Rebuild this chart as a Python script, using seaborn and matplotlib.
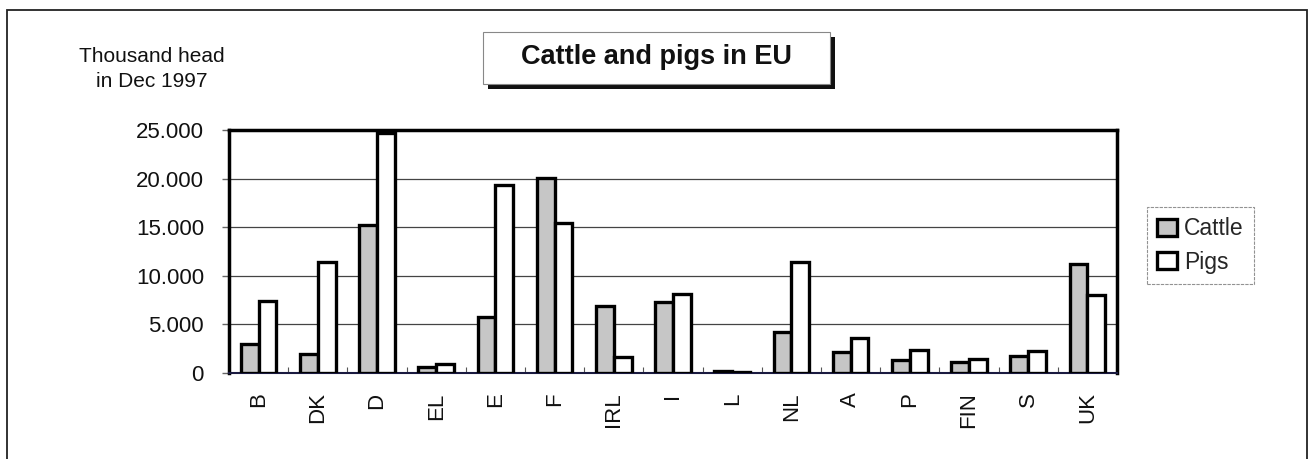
import numpy as np
import pandas as pd
import matplotlib
matplotlib.use("Agg")
import matplotlib.pyplot as plt
import matplotlib.patches as mpatches
from matplotlib.ticker import FuncFormatter
import seaborn as sns

# Bestand Dezember 1997, in Tausend Stück
countries = ["B", "DK", "D", "EL", "E", "F", "IRL", "I", "L", "NL", "A", "P", "FIN", "S", "UK"]
cattle = [3000, 2000, 15200, 600, 5800, 20100, 6900, 7300, 200, 4200, 2200, 1300, 1100, 1700, 11200]
pigs = [7400, 11400, 24700, 900, 19300, 15400, 1600, 8150, 70, 11400, 3600, 2400, 1400, 2300, 8000]
series = ["Cattle", "Pigs"]
y_ticks = [0, 5000, 10000, 15000, 20000, 25000]

sns.set_theme(style="white")
plt.rcParams["font.family"] = ["Liberation Sans", "DejaVu Sans"]

df = pd.DataFrame({"country": countries * 2,
                   "value": cattle + pigs,
                   "animal": [series[0]] * len(countries) + [series[1]] * len(countries)})
farben = {"Cattle": "#c6c6c6", "Pigs": "white"}

fig = plt.figure(figsize=(13.14, 4.59), dpi=100)
W, H = 1314, 459
ax = fig.add_axes([229 / W, 1 - 373 / H, 888 / W, 243 / H])

sns.barplot(data=df, x="country", y="value", hue="animal", order=countries,
            hue_order=series, palette=farben, width=0.6, edgecolor="black",
            linewidth=2.4, saturation=1, errorbar=None, legend=False, ax=ax, zorder=3)

ax.set_xlim(-0.5, len(countries) - 0.5)
ax.set_ylim(0, 25000)
ax.set_yticks(y_ticks)
ax.yaxis.set_major_formatter(FuncFormatter(lambda v, p: f"{int(v):,}".replace(",", ".")))
ax.set_xlabel("")
ax.set_ylabel("")
ax.grid(axis="y", color="#444444", linewidth=0.9, zorder=0)
ax.set_axisbelow(True)

ax.tick_params(axis="y", which="major", left=True, length=5, width=1, color="#666666",
               pad=13, labelsize=16, labelcolor="#111111")
ax.tick_params(axis="x", which="major", bottom=False, length=0, pad=14,
               labelsize=16, labelrotation=90, labelcolor="#111111")
ax.set_xticks(np.arange(-0.5, len(countries), 1), minor=True)
ax.tick_params(axis="x", which="minor", bottom=True, direction="in", length=4,
               width=0.8, color="#555555")

for side in ["top", "right", "left"]:
    ax.spines[side].set_color("black")
    ax.spines[side].set_linewidth(2.5)
ax.spines["bottom"].set_color("#1a1a40")
ax.spines["bottom"].set_linewidth(1.5)

# Legende
handles = [mpatches.Patch(facecolor=farben[s], edgecolor="black", linewidth=2.4, label=s)
           for s in series]
leg = fig.legend(handles=handles, loc="upper left", bbox_to_anchor=(1147 / W, 1 - 207 / H),
                 fontsize=16.5, frameon=True, fancybox=False, handlelength=0.85,
                 handleheight=0.8, handletextpad=0.3, labelspacing=0.45, borderpad=0.45,
                 borderaxespad=0)
leg.get_frame().set_edgecolor("#777777")
leg.get_frame().set_linewidth(0.8)
leg.get_frame().set_linestyle((0, (3, 1)))

# Titel mit Schatten
fig.patches.append(mpatches.Rectangle((488 / W, 1 - 89 / H), 347 / W, 52 / H,
                                      transform=fig.transFigure, facecolor="#111111",
                                      edgecolor="none", zorder=1))
fig.patches.append(mpatches.Rectangle((483 / W, 1 - 84 / H), 347 / W, 52 / H,
                                      transform=fig.transFigure, facecolor="white",
                                      edgecolor="#888888", linewidth=0.8, zorder=2))
fig.text(656 / W, 1 - 57 / H, "Cattle and pigs in EU", ha="center", va="center",
         fontsize=19.5, fontweight="bold", color="#111111", zorder=3)

fig.text(152 / W, 1 - 69 / H, "Thousand head\nin Dec 1997", ha="center", va="center",
         fontsize=15, color="#111111", linespacing=1.4)

# Rahmen um die ganze Grafik
fig.patches.append(mpatches.Rectangle((7 / W, -0.1), 1300 / W, 1.1 - 10 / H,
                                      transform=fig.transFigure, facecolor="none",
                                      edgecolor="#222222", linewidth=1.3, zorder=0))

fig.savefig("out.png", dpi=100)
